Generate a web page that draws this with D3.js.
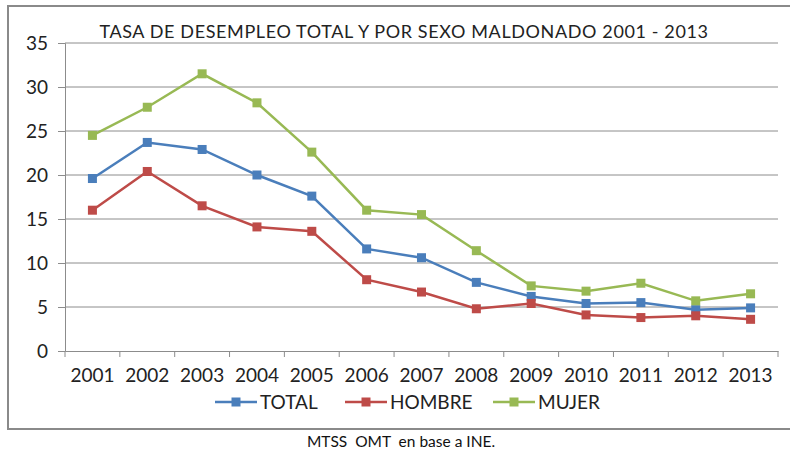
<!DOCTYPE html>
<html><head><meta charset="utf-8">
<script src="https://cdn.jsdelivr.net/npm/d3@7"></script>
<style>body{margin:0;background:#fff}svg{display:block}text{white-space:pre}</style>
</head><body>
<script>
const years = ["2001","2002","2003","2004","2005","2006","2007","2008","2009","2010","2011","2012","2013"];
const total  = [19.6,23.7,22.9,20.0,17.6,11.6,10.6,7.8,6.2,5.4,5.5,4.7,4.9];
const hombre = [16.0,20.4,16.5,14.1,13.6,8.1,6.7,4.8,5.4,4.1,3.8,4.0,3.6];
const mujer  = [24.5,27.7,31.5,28.2,22.6,16.0,15.5,11.4,7.4,6.8,7.7,5.7,6.5];
const yTicks = [0,5,10,15,20,25,30,35];
const seriesNames = ["TOTAL","HOMBRE","MUJER"];
const colors = ["#4a7ebb","#be4b48","#98b954"];
const title = "TASA DE DESEMPLEO TOTAL Y POR SEXO MALDONADO 2001 - 2013";
const source = "MTSS  OMT  en base a INE.";

const W=790,H=455;
const svg=d3.select("body").append("svg").attr("width",W).attr("height",H);
const font="Lato, 'Open Sans', sans-serif";
svg.append("rect").attr("x",8).attr("y",6).attr("width",790).attr("height",423)
  .attr("fill","#fff").attr("stroke","#8a8a8a").attr("stroke-width",2);

const x=d3.scaleBand().domain(years).range([65,778]);
const y=d3.scaleLinear().domain([0,35]).range([351,43]);

const grid=svg.append("g");
grid.selectAll("line").data(yTicks.filter(d=>d>0)).join("line")
  .attr("x1",65).attr("x2",778).attr("y1",d=>y(d)).attr("y2",d=>y(d))
  .attr("stroke","#8c8c8c").attr("stroke-width",1);

const yAxis=svg.append("g").attr("transform","translate(65,0)")
  .call(d3.axisLeft(y).tickValues(yTicks).tickSize(7).tickPadding(10));
const xAxis=svg.append("g").attr("transform","translate(0,351)")
  .call(d3.axisBottom(x).tickSize(0).tickPadding(18));
[yAxis,xAxis].forEach(a=>{a.selectAll("path,line").attr("stroke","#8c8c8c");
  a.selectAll("text").attr("font-family",font).attr("font-size",19).attr("fill","#222");});
// category boundary ticks
const bounds=years.map(d=>x(d)).concat([x.range()[1]]);
svg.append("g").selectAll("line").data(bounds).join("line")
  .attr("x1",d=>d).attr("x2",d=>d).attr("y1",351).attr("y2",357).attr("stroke","#8c8c8c");

const data=[total,hombre,mujer];
const cx=i=>x(years[i])+x.bandwidth()/2;
const line=d3.line().x((d,i)=>cx(i)).y(d=>y(d));
data.forEach((s,k)=>{
  svg.append("path").datum(s).attr("d",line).attr("fill","none")
    .attr("stroke",colors[k]).attr("stroke-width",2.5);
  svg.append("g").selectAll("rect").data(s).join("rect")
    .attr("x",(d,i)=>cx(i)-4.5).attr("y",d=>y(d)-4.5).attr("width",9).attr("height",9)
    .attr("fill",colors[k]);
});

svg.append("text").attr("x",404).attr("y",38).attr("text-anchor","middle")
  .attr("font-family",font).attr("font-size",18).attr("letter-spacing",0.62).attr("fill","#222").text(title);

const legX=[215,345,493];
seriesNames.forEach((n,k)=>{
  const g=svg.append("g");
  g.append("line").attr("x1",legX[k]).attr("x2",legX[k]+42).attr("y1",402).attr("y2",402)
    .attr("stroke",colors[k]).attr("stroke-width",2.5);
  g.append("rect").attr("x",legX[k]+16.5).attr("y",397.5).attr("width",9).attr("height",9).attr("fill",colors[k]);
  g.append("text").attr("x",legX[k]+45).attr("y",409).attr("font-family",font)
    .attr("font-size",19).attr("fill","#222").text(n);
});

svg.append("text").attr("x",401).attr("y",447).attr("text-anchor","middle")
  .attr("font-family",font).attr("font-size",15.5).attr("fill","#111").text(source);
</script>
</body></html>
